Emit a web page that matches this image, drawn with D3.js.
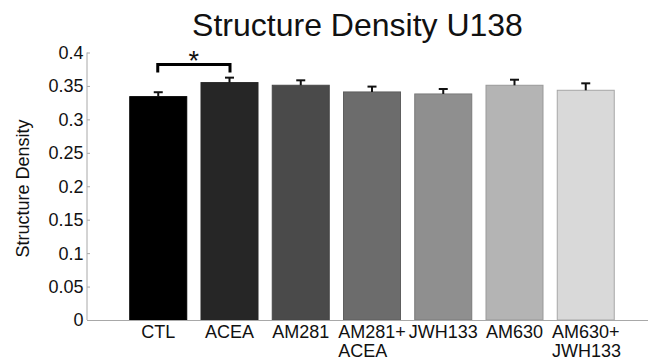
<!DOCTYPE html>
<html>
<head>
<meta charset="utf-8">
<script src="https://cdn.jsdelivr.net/npm/d3@7"></script>
<style>
  html, body { margin: 0; padding: 0; background: #fff; }
  svg { display: block; font-family: Arial, "Liberation Sans", sans-serif; }
</style>
</head>
<body>
<svg id="chart" width="648" height="364"></svg>
<script>
// ---- data ----
const categories = [["CTL"], ["ACEA"], ["AM281"], ["AM281+", "ACEA"], ["JWH133"], ["AM630"], ["AM630+", "JWH133"]];
const means = [0.334, 0.355, 0.351, 0.341, 0.338, 0.351, 0.3435];
const errors = [0.0066, 0.0074, 0.0074, 0.0080, 0.0074, 0.0083, 0.0104];
const yTicks = [0, 0.05, 0.1, 0.15, 0.2, 0.25, 0.3, 0.35, 0.4];
const yTickLabels = ["0", "0.05", "0.1", "0.15", "0.2", "0.25", "0.3", "0.35", "0.4"];
const sigPair = [0, 1];
const sigLabel = "*";
const titleText = "Structure Density U138";
const yLabelText = "Structure Density";

// ---- styles ----
const fills = ["#000000", "#262626", "#4a4a4a", "#6c6c6c", "#8f8f8f", "#b4b4b4", "#d9d9d9"];
const strokes = ["#000000", "#262626", "#474747", "#5e5e5e", "#7a7a7a", "#999999", "#a6a6a6"];

const svg = d3.select("#chart");

const x = d3.scaleLinear().domain([0, categories.length + 1]).range([87, 657]);
const y = d3.scaleLinear().domain([0, 0.4]).range([320, 52.5]);
const barW = 0.8;

// bars
svg.append("g").selectAll("rect").data(means).join("rect")
  .attr("x", (d, i) => x(i + 1 - barW / 2))
  .attr("width", (d, i) => x(i + 1 + barW / 2) - x(i + 1 - barW / 2))
  .attr("y", d => y(d))
  .attr("height", d => y(0) - y(d))
  .attr("fill", (d, i) => fills[i])
  .attr("stroke", (d, i) => strokes[i])
  .attr("stroke-width", 1);

// error bars (upper only)
const eg = svg.append("g").attr("stroke", "#111").attr("stroke-width", 2).attr("fill", "none");
means.forEach((m, i) => {
  const cx = x(i + 1);
  eg.append("line").attr("x1", cx).attr("x2", cx).attr("y1", y(m)).attr("y2", y(m + errors[i]));
  eg.append("line").attr("x1", cx - 4.5).attr("x2", cx + 4.5).attr("y1", y(m + errors[i])).attr("y2", y(m + errors[i]));
});

// axes
const axisColor = "#a8a8a8";
const yAxis = d3.axisRight(y).tickValues(yTicks).tickSize(3).tickFormat("");
const yg = svg.append("g").attr("transform", `translate(${x(0)},0)`).call(yAxis);
yg.select(".domain").attr("stroke", axisColor).attr("d", `M0,${y(0)}V${y(0.4)}`);
yg.selectAll(".tick line").attr("stroke", axisColor);

svg.append("line")
  .attr("x1", x(0)).attr("x2", x(categories.length + 1))
  .attr("y1", y(0) + 0.5).attr("y2", y(0) + 0.5)
  .attr("stroke", axisColor).attr("stroke-width", 1.2);

// y tick labels
svg.append("g").selectAll("text").data(yTicks).join("text")
  .attr("x", 83.5)
  .attr("y", d => y(d))
  .attr("dy", "0.36em")
  .attr("text-anchor", "end")
  .attr("font-size", 18)
  .attr("fill", "#111")
  .text((d, i) => yTickLabels[i]);

// x category labels
const xl = svg.append("g").attr("font-size", 18).attr("fill", "#111");
categories.forEach((lines, i) => {
  const cx = x(i + 1);
  const t = xl.append("text").attr("y", 337.5);
  t.append("tspan").text(lines[0]);
  const w = t.node().getComputedTextLength();
  const startX = cx - w / 2;
  t.attr("x", startX);
  if (lines.length > 1) {
    t.append("tspan").attr("x", startX).attr("dy", 19.3).text(lines[1]);
  }
});

// y label
svg.append("text")
  .attr("transform", `translate(29,188.5) rotate(-90)`)
  .attr("text-anchor", "middle")
  .attr("font-size", 18)
  .attr("fill", "#111")
  .text(yLabelText);

// title
svg.append("text")
  .attr("x", 357.5).attr("y", 36)
  .attr("text-anchor", "middle")
  .attr("font-size", 32)
  .attr("fill", "#111")
  .text(titleText);

// significance bracket
const bx1 = x(sigPair[0] + 1) - 0.5, bx2 = x(sigPair[1] + 1) + 0.5;
const bTop = 64.5, bBot = 72.5;
svg.append("path")
  .attr("d", `M${bx1},${bBot}V${bTop}H${bx2}V${bBot}`)
  .attr("fill", "none").attr("stroke", "#000").attr("stroke-width", 3);
svg.append("text")
  .attr("x", (bx1 + bx2) / 2).attr("y", 70)
  .attr("text-anchor", "middle")
  .attr("font-size", 27)
  .attr("fill", "#111")
  .text(sigLabel);
</script>
</body>
</html>
